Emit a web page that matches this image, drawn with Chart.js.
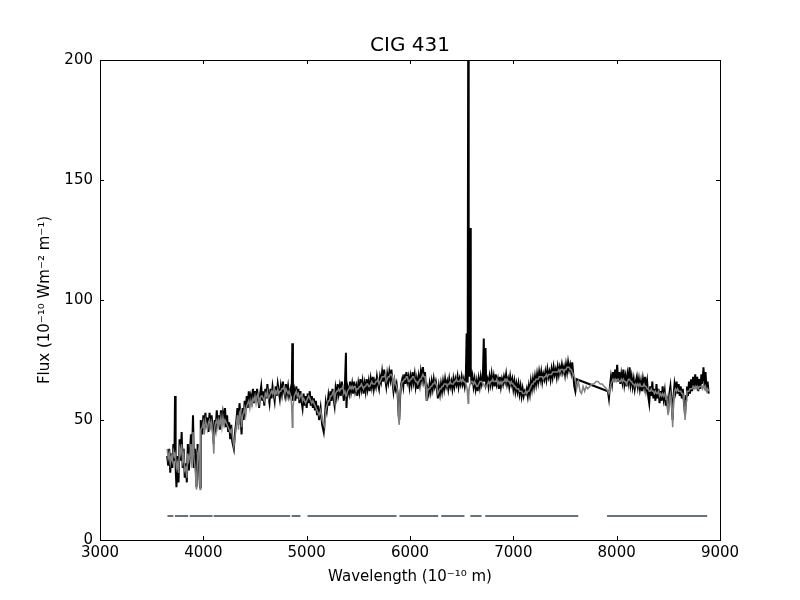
<!DOCTYPE html>
<html><head><meta charset="utf-8">
<script src="https://cdn.jsdelivr.net/npm/chart.js@4"></script>
<style>html,body{margin:0;padding:0;background:#fff}</style>
</head><body>
<canvas id="c" width="800" height="600"></canvas>
<script>
const chartTitle = 'CIG 431';
const xTitle = 'Wavelength (10\u207B\u00B9\u2070 m)';
const yTitle = 'Flux (10\u207B\u00B9\u2070 Wm\u207B\u00B2 m\u207B\u00B9)';
const xTickValues = [3000,4000,5000,6000,7000,8000,9000];
const yTickValues = [0,50,100,150,200];

const wavelength = [
3650,3660,3670,3680,3690,3700,3710,3720,3726,3732,
3740,3750,3760,3770,3780,3790,3800,3810,3820,3830,
3840,3850,3860,3870,3880,3890,3900,3910,3920,3934,
3945,3955,3968,3975,3990,4000,4010,4020,4030,4040,
4050,4060,4070,4080,4090,4101,4110,4120,4130,4140,
4150,4160,4170,4180,4190,4200,4210,4220,4230,4240,
4250,4260,4270,4280,4295,4305,4320,4330,4340,4350,
4360,4370,4380,4390,4400,4410,4420,4430,4440,4450,
4460,4470,4480,4490,4500,4510,4520,4530,4540,4550,
4560,4570,4580,4590,4600,4610,4620,4630,4640,4650,
4660,4670,4680,4690,4700,4710,4720,4730,4740,4750,
4760,4770,4780,4790,4800,4810,4820,4830,4845,4855,
4861,4867,4880,4890,4900,4910,4920,4930,4940,4950,
4960,4970,4980,4990,5000,5010,5020,5030,5040,5050,
5060,5070,5080,5090,5100,5110,5120,5135,5150,5165,
5175,5185,5195,5210,5220,5230,5240,5250,5260,5270,
5280,5290,5300,5310,5320,5330,5340,5350,5360,5370,
5380,5385,5395,5410,5420,5430,5440,5450,5460,5470,
5480,5490,5500,5510,5520,5530,5540,5550,5560,5570,
5580,5590,5600,5610,5620,5630,5640,5650,5660,5670,
5680,5690,5700,5710,5720,5730,5740,5750,5760,5770,
5780,5790,5800,5810,5820,5830,5840,5850,5860,5870,
5880,5890,5896,5905,5915,5925,5935,5945,5955,5965,
5975,5985,5995,6005,6015,6025,6035,6045,6055,6065,
6075,6085,6095,6105,6115,6125,6135,6145,6155,6162,
6170,6180,6190,6200,6210,6220,6230,6240,6250,6260,
6270,6280,6290,6300,6310,6320,6330,6340,6350,6360,
6370,6380,6390,6400,6410,6420,6430,6440,6450,6460,
6470,6480,6490,6500,6510,6520,6530,6540,6548,6553,
6558,6563,6568,6575,6583,6588,6595,6605,6615,6625,
6635,6645,6655,6665,6675,6685,6695,6705,6714,6720,
6731,6737,6750,6760,6770,6780,6790,6800,6810,6820,
6830,6840,6850,6860,6870,6880,6890,6900,6910,6920,
6930,6940,6950,6960,6970,6980,6990,7000,7010,7020,
7030,7040,7050,7060,7070,7080,7090,7100,7110,7120,
7130,7140,7150,7160,7170,7180,7190,7200,7210,7220,
7230,7240,7250,7260,7270,7280,7290,7300,7310,7320,
7330,7340,7350,7360,7370,7380,7390,7400,7410,7420,
7430,7440,7450,7460,7470,7480,7490,7500,7510,7520,
7530,7540,7550,7560,7570,7580,7590,7600,7612,7630,
7645,7660,7675,7690,7705,7720,7740,7760,7780,7800,
7820,7840,7860,7880,7900,7915,7925,7935,7945,7955,
7965,7975,7985,7995,8005,8015,8025,8035,8045,8055,
8065,8075,8085,8095,8105,8115,8125,8135,8145,8155,
8165,8175,8185,8195,8205,8215,8225,8235,8245,8255,
8265,8275,8285,8295,8305,8315,8325,8335,8345,8355,
8365,8375,8385,8395,8405,8415,8425,8435,8445,8455,
8465,8475,8485,8498,8510,8520,8530,8542,8550,8560,
8570,8580,8590,8600,8610,8620,8630,8640,8650,8662,
8672,8680,8690,8700,8710,8720,8730,8740,8750,8760,
8770,8780,8790,8800,8810,8820,8830,8840,8850,8860,
8870,8880,8890
];

const observedFlux = [
35,31,38,28,36,30,40,33,60,30,
22,35,24,42,33,45,30,38,26,32,
24,40,29,36,44,34,52,30,38,22,
40,33,22,50,44,52,46,53,47,51,
45,53,48,52,46,40,50,47,54,48,
52,46,54,49,53,50,55,47,52,45,
49,42,48,41,38,44,50,55,48,57,
52,44,55,50,58,54,60,55,62,56,
60,58,63,57,62,58,63,59,55,61,
64,58,62,56,63,59,65,60,57,63,
59,64,61,58,64,60,65,62,59,64,
61,66,62,60,65,61,64,60,63,60,
82,58,62,58,64,59,63,57,62,58,
55,61,56,60,55,61,57,62,56,60,
55,59,54,58,52,56,50,55,48,45,
50,57,54,60,56,62,58,63,59,56,
63,60,65,61,64,60,66,62,58,64,
78,55,64,61,66,62,65,61,66,62,
64,60,65,62,67,63,66,61,65,62,
67,63,66,62,67,64,68,63,66,64,
68,65,63,68,66,70,66,71,67,64,
69,66,70,67,71,66,62,66,63,65,
61,52,50,60,65,67,64,69,65,70,
66,68,64,68,65,70,66,69,64,67,
63,68,65,70,67,72,67,70,62,58,
63,61,65,62,66,63,67,64,66,63,
59,64,61,65,62,66,63,67,64,66,
63,67,64,66,63,67,64,67,65,68,
64,67,65,68,65,67,64,67,86,66,
70,205,80,68,130,72,65,68,64,67,
63,66,62,67,64,68,65,67,84,66,
80,65,67,64,68,65,69,65,68,64,
69,65,67,63,68,64,67,65,68,66,
69,65,67,64,68,65,67,63,66,62,
65,62,65,61,64,60,63,60,62,61,
63,60,64,61,66,63,67,64,68,65,
69,66,70,67,70,66,69,67,70,67,
71,68,70,67,71,68,72,69,71,68,
72,69,72,70,73,70,72,69,73,70,
74,71,73,70,74,69,64,62,67,null,
null,null,null,null,null,null,null,null,null,null,
null,null,null,null,null,62,59,64,68,65,
70,66,71,67,73,66,70,65,69,66,
71,65,68,64,69,66,72,65,68,64,
67,63,66,68,64,67,63,66,62,67,
64,68,63,66,60,57,64,60,66,59,
63,58,65,59,63,57,62,58,64,59,
62,56,60,53,61,64,58,50,60,65,
62,66,61,65,60,64,59,63,58,52,
60,64,60,66,61,67,62,68,63,69,
64,68,62,67,63,69,65,72,64,70,
62,66,61
];

const modelFlux = [
38,34,36,32,35,33,37,35,36,34,
30,32,28,38,36,40,33,36,29,30,
26,36,33,35,40,30,45,34,30,21,
36,38,21,46,47,49,44,50,48,46,
49,50,47,49,45,36,47,49,50,47,
50,48,51,47,51,48,50,49,48,47,
46,45,46,44,39,42,48,52,46,53,
54,47,52,53,55,52,56,57,58,55,
58,56,59,58,60,57,60,61,57,59,
60,60,59,58,61,60,62,59,60,61,
62,61,63,60,62,61,63,61,62,62,
63,63,64,61,63,62,61,62,60,56,
47,55,60,61,62,60,61,59,60,61,
58,59,58,57,58,59,60,59,58,57,
58,57,56,55,54,53,52,54,50,48,
47,54,56,58,58,60,60,61,62,58,
61,62,62,63,62,63,63,64,61,62,
60,60,62,63,64,63,64,63,64,64,
62,63,63,64,64,65,64,63,64,64,
65,65,64,64,65,66,65,65,65,66,
66,67,65,66,67,68,68,68,69,66,
67,68,68,69,69,68,64,67,65,64,
62,50,48,62,64,66,66,67,67,68,
68,66,66,67,67,68,68,67,66,66,
65,66,67,67,68,69,68,68,64,58,
62,63,63,64,64,65,65,66,65,64,
61,62,63,63,64,64,65,65,65,64,
65,65,66,65,65,65,66,66,67,66,
66,66,67,66,67,66,66,65,64,63,
60,57,60,64,65,66,66,66,65,66,
65,64,64,65,66,66,66,65,65,64,
64,64,65,66,65,66,66,67,66,66,
66,67,65,66,65,66,65,66,66,67,
66,67,66,66,65,66,65,65,64,64,
63,63,63,62,62,62,61,61,61,62,
61,62,62,63,64,65,65,66,66,67,
67,67,68,68,68,68,67,68,68,69,
68,69,69,69,69,70,70,70,70,70,
70,71,70,71,71,71,70,71,71,72,
72,72,71,71,70,69,68,67,63,66,
62,61,64,62,64,63,64,65,65,66,
66,65,65,64,63,62,61,63,65,66,
67,66,67,66,67,67,66,66,67,66,
67,66,66,65,66,67,67,66,66,65,
65,64,65,64,65,64,65,64,64,64,
65,64,64,63,63,62,62,63,62,62,
61,62,61,61,62,60,61,60,61,60,
61,59,60,52,59,61,58,47,57,62,
63,62,63,62,62,62,61,61,58,50,
58,62,62,62,63,63,63,64,63,64,
63,64,63,64,64,64,63,65,63,64,
62,63,62
];

const maskStart = [3653,3725,3868,4100,4854,5008,5898,6302,6584,6728,7907];
const maskEnd   = [3710,3853,4089,4840,4940,5870,6273,6527,6692,7628,8876];
const maskLevel = 10;

const obsData = wavelength.map((w,i)=>({x:w, y:observedFlux[i]}));
const modelData = wavelength.map((w,i)=>({x:w, y:modelFlux[i]}));
const maskData = [];
maskStart.forEach((s,i)=>{
  maskData.push({x:s,y:maskLevel},{x:maskEnd[i],y:maskLevel},{x:maskEnd[i],y:null});
});

const FONT = '"DejaVu Sans", sans-serif';

const frameTicks = {
  id:'frameTicks',
  afterDatasetsDraw(chart){
    const {ctx, chartArea:a, scales:{x,y}} = chart;
    ctx.save();
    ctx.strokeStyle='#000';
    ctx.lineWidth=1;
    ctx.beginPath();
    xTickValues.forEach(v=>{
      const px=Math.round(x.getPixelForValue(v))+0.5;
      ctx.moveTo(px,a.bottom); ctx.lineTo(px,a.bottom-4);
      ctx.moveTo(px,a.top); ctx.lineTo(px,a.top+4);
    });
    yTickValues.forEach(v=>{
      const py=Math.round(y.getPixelForValue(v))+0.5;
      ctx.moveTo(a.left,py); ctx.lineTo(a.left+4,py);
      ctx.moveTo(a.right,py); ctx.lineTo(a.right-4,py);
    });
    ctx.stroke();
    ctx.strokeRect(Math.round(a.left)+0.5, Math.round(a.top)+0.5,
                   Math.round(a.right-a.left), Math.round(a.bottom-a.top));
    ctx.restore();
  }
};

new Chart(document.getElementById('c'), {
  type:'line',
  data:{datasets:[
    {label:'model', data:modelData, borderColor:'#808080', borderWidth:1.5, pointRadius:0, tension:0, order:0, spanGaps:true},
    {label:'observed', data:obsData, borderColor:'#000000', borderWidth:2, pointRadius:0, tension:0, order:1, spanGaps:true},
    {label:'mask', data:maskData, borderColor:'#66737b', borderWidth:2, pointRadius:0, tension:0, order:2, spanGaps:false}
  ]},
  options:{
    responsive:false, animation:false, devicePixelRatio:1,
    layout:{padding:{left:0,right:80,top:0,bottom:0}},
    plugins:{
      legend:{display:false}, tooltip:{enabled:false},
      title:{display:true, fullSize:false, text:chartTitle, color:'#000',
             font:{family:FONT, size:20, weight:'normal'}, padding:{top:34,bottom:2}}
    },
    scales:{
      x:{type:'linear', min:3000, max:9000,
         afterBuildTicks:s=>{s.ticks=xTickValues.map(v=>({value:v}));},
         afterFit:s=>{s.height=60;},
         grid:{display:false, drawTicks:false}, border:{display:false},
         ticks:{color:'#000', font:{family:FONT,size:15}, padding:4, maxRotation:0, callback:v=>String(v)},
         title:{display:true, text:xTitle, color:'#000', font:{family:FONT,size:15}, padding:{top:0,bottom:14}}
      },
      y:{type:'linear', min:0, max:200,
         afterBuildTicks:s=>{s.ticks=yTickValues.map(v=>({value:v}));},
         afterFit:s=>{s.width=100;},
         grid:{display:false, drawTicks:false}, border:{display:false},
         ticks:{color:'#000', font:{family:FONT,size:15}, padding:7, callback:v=>String(v)},
         title:{display:true, text:yTitle, color:'#000', font:{family:FONT,size:15}, padding:{top:36,bottom:0}}
      }
    }
  },
  plugins:[frameTicks]
});
</script>
</body></html>
